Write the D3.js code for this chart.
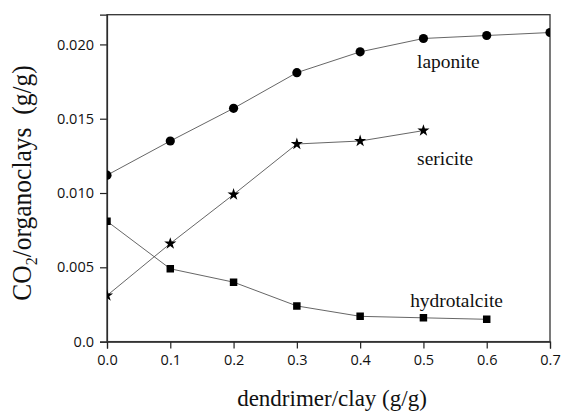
<!DOCTYPE html>
<html>
<head>
<meta charset="utf-8">
<script src="https://cdn.jsdelivr.net/npm/d3@7"></script>
<style>
  body { margin: 0; background: #fff; }
  .tick text { font-family: "Open Sans", sans-serif; font-size: 14.5px; fill: #111; }
  .serif { font-family: "Liberation Serif", "Times New Roman", serif; fill: #111; }
</style>
</head>
<body>
<div class="chart"></div>
<script>
var svgWidth = 561;
var svgHeight = 413;

var margin = { top: 14.7, right: 11, bottom: 71.4, left: 107 };
var width = svgWidth - margin.left - margin.right;
var height = svgHeight - margin.top - margin.bottom;

// data
var ratio = [0.0, 0.1, 0.2, 0.3, 0.4, 0.5, 0.6, 0.7];
var laponite = [0.0112, 0.0135, 0.0157, 0.0181, 0.0195, 0.0204, 0.0206, 0.0208];
var sericite = [0.0031, 0.0066, 0.0099, 0.0133, 0.0135, 0.0142];
var hydrotalcite = [0.0081, 0.0049, 0.0040, 0.0024, 0.0017, 0.0016, 0.0015];
var xTicks = [0.0, 0.1, 0.2, 0.3, 0.4, 0.5, 0.6, 0.7];
var yTicks = [0.0, 0.005, 0.010, 0.015, 0.020];

var svg = d3.select(".chart")
  .append("svg")
  .attr("width", svgWidth)
  .attr("height", svgHeight);

var chartGroup = svg.append("g")
  .attr("transform", `translate(${margin.left}, ${margin.top})`);

var xScale = d3.scaleLinear().domain([0, 0.7]).range([0, width]);
var yScale = d3.scaleLinear().domain([0, 0.022]).range([height, 0]);

chartGroup.append("clipPath").attr("id", "plot-clip")
  .append("rect").attr("width", width).attr("height", height);

// axes
var bottomAxis = d3.axisBottom(xScale).tickValues(xTicks)
  .tickFormat(d3.format(".1f")).tickSizeOuter(0).tickSize(7).tickPadding(6);
var leftAxis = d3.axisLeft(yScale).tickValues(yTicks)
  .tickFormat(function(d) { return d === 0 ? "0.0" : d3.format(".3f")(d); })
  .tickSizeOuter(0).tickSize(7).tickPadding(6);

chartGroup.append("g")
  .attr("transform", `translate(0, ${height})`)
  .call(bottomAxis);
chartGroup.append("g").call(leftAxis);
chartGroup.selectAll(".domain, .tick line").attr("stroke", "#222").attr("stroke-width", 1.2);

// frame
chartGroup.append("rect")
  .attr("width", width).attr("height", height)
  .attr("fill", "none").attr("stroke", "#333").attr("stroke-width", 1.3);

var series = [
  { name: "laponite", values: laponite, symbol: d3.symbolCircle, size: 66 },
  { name: "sericite", values: sericite, symbol: d3.symbolStar, size: 46 },
  { name: "hydrotalcite", values: hydrotalcite, symbol: d3.symbolSquare, size: 56 }
];

var line = d3.line()
  .x(function(d, i) { return xScale(ratio[i]); })
  .y(function(d) { return yScale(d); });

var plot = chartGroup.append("g").attr("clip-path", "url(#plot-clip)");

series.forEach(function(s) {
  plot.append("path")
    .attr("d", line(s.values))
    .attr("fill", "none")
    .attr("stroke", "#555")
    .attr("stroke-width", 0.9);

  plot.selectAll(null)
    .data(s.values)
    .enter()
    .append("path")
    .attr("transform", function(d, i) { return `translate(${xScale(ratio[i])}, ${yScale(d)})`; })
    .attr("d", d3.symbol().type(s.symbol).size(s.size))
    .attr("fill", "#000");
});

// series labels
var labels = [
  { text: "laponite", x: 0.49, y: 0.0184 },
  { text: "sericite", x: 0.49, y: 0.0119 },
  { text: "hydrotalcite", x: 0.479, y: 0.00233 }
];
chartGroup.selectAll(".series-label")
  .data(labels)
  .enter()
  .append("text")
  .attr("class", "serif")
  .attr("transform", function(d) { return `translate(${xScale(d.x)}, ${yScale(d.y)}) scale(1.08, 1)`; })
  .attr("font-size", 18)
  .text(function(d) { return d.text; });

// axis titles
var yTitle = svg.append("text")
  .attr("class", "serif")
  .attr("transform", "translate(31, 183) rotate(-90) scale(1, 1.1)")
  .attr("text-anchor", "middle")
  .attr("font-size", 25.5);
yTitle.append("tspan").text("CO");
yTitle.append("tspan").attr("font-size", 16).attr("dy", 5).text("2");
yTitle.append("tspan").attr("dy", -5).text("/organoclays\u00a0\u00a0(g/g)");

svg.append("text")
  .attr("class", "serif")
  .attr("x", 332)
  .attr("y", 406)
  .attr("text-anchor", "middle")
  .attr("font-size", 23)
  .text("dendrimer/clay (g/g)");
</script>
</body>
</html>
